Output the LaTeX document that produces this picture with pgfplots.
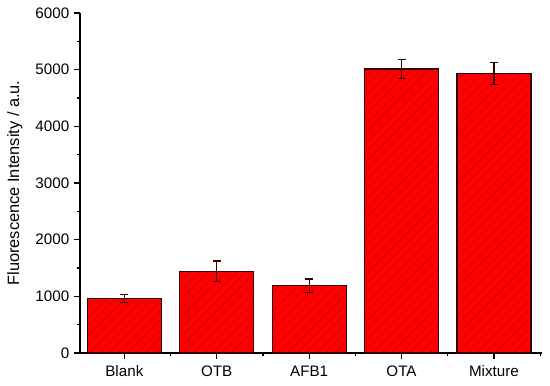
\documentclass[border=0pt]{standalone}
\usepackage{pgfplots}
\pgfplotsset{compat=1.18}
\usepackage{fontspec}
\setmainfont{Liberation Sans}
\usetikzlibrary{patterns.meta}
\begin{document}
\begin{tikzpicture}
\begin{axis}[
  scale only axis,
  width=346.5pt, height=255pt,
  xmin=-0.48, xmax=4.52,
  ymin=0, ymax=6000,
  axis x line*=bottom, axis y line*=left,
  axis line style={line width=0.9pt},
  xtick={0,1,2,3,4},
  xticklabels={Blank,OTB,AFB1,OTA,Mixture},
  minor xtick={0.5,1.5,2.5,3.5,4.5},
  ytick={0,1000,...,6000},
  minor ytick={500,1500,...,5500},
  tick align=outside,
  major tick length=4.5pt,
  minor tick length=2.5pt,
  tick style={black, line width=0.9pt},
  scaled y ticks=false,
  /pgf/number format/assume math mode=true,
  /pgf/number format/1000 sep={},
  ticklabel style={font=\fontsize{11.4}{13}\selectfont},
  xticklabel style={yshift=-1.5pt},
  ylabel={Fluorescence Intensity / a.u.},
  ylabel style={font=\fontsize{12.3}{14}\selectfont, at={(axis description cs:-0.1407,0.5)}, anchor=center},
  clip=false,
]
\addplot[ybar, bar width=0.8, draw=black!80!red, line width=0.9pt, fill=red,
  postaction={pattern={Lines[angle=45, distance=5pt, line width=0.4pt]}, pattern color=red!80!black},
  error bars/.cd, y dir=both, y explicit,
  error bar style={line width=0.9pt, black!80!red},
  error mark options={rotate=90, mark size=3pt, line width=0.9pt, black!80!red}]
  coordinates {
  (0,965) +- (0,74)
  (1,1442) +- (0,183)
  (2,1188) +- (0,118)
  (3,5012) +- (0,162)
  (4,4935) +- (0,192)
  };
\path (rel axis cs:0,0) ++(-60pt,-24.75pt) (rel axis cs:1,1) ++(6pt,9.75pt);
\end{axis}
\end{tikzpicture}
\end{document}
